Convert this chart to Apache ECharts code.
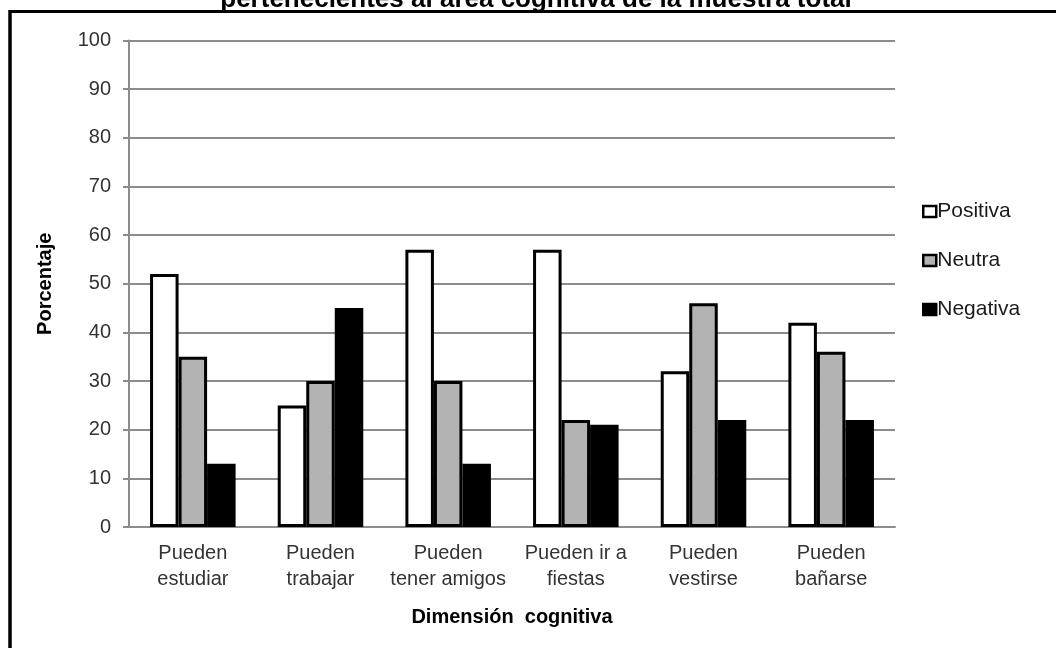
<!DOCTYPE html>
<html>
<head>
<meta charset="utf-8">
<script src="https://cdn.jsdelivr.net/npm/echarts@6/dist/echarts.min.js"></script>
<style>
html,body{margin:0;padding:0;background:#fff;}
#chart{width:1056px;height:648px;}
</style>
</head>
<body>
<div id="chart"></div>
<script>
const categories = ["Pueden\nestudiar", "Pueden\ntrabajar", "Pueden\ntener amigos", "Pueden ir a\nfiestas", "Pueden\nvestirse", "Pueden\nbañarse"];
const positiva = [52, 25, 57, 57, 32, 42];
const neutra = [35, 30, 30, 22, 46, 36];
const negativa = [13, 45, 13, 21, 22, 22];
const seriesNames = ["Positiva", "Neutra", "Negativa"];
const yTicks = { min: 0, max: 100, interval: 10 };
const titleText = "pertenecientes al área cognitiva de la muestra total";

const FONT = "'Liberation Sans', Arial, sans-serif";
const chart = echarts.init(document.getElementById('chart'), null, { renderer: 'canvas' });

function barSeries(name, data, color) {
  return {
    name: name,
    type: 'bar',
    data: data,
    barGap: '0%',
    barCategoryGap: '33%',
    itemStyle: { color: color, borderColor: '#000', borderWidth: 3 },
    emphasis: { disabled: true }
  };
}

chart.setOption({
  animation: false,
  backgroundColor: '#fff',
  grid: { left: 129, right: 161, top: 40.5, bottom: 121 },
  legend: {
    orient: 'vertical',
    left: 917,
    top: 196,
    itemGap: 28,
    itemWidth: 13,
    itemHeight: 11,
    icon: 'rect',
    textStyle: { fontFamily: FONT, fontSize: 21, color: '#1a1a1a', padding: [0, 0, 0, -4] },
    itemStyle: { borderColor: '#000', borderWidth: 2.5 },
    data: seriesNames
  },
  xAxis: {
    type: 'category',
    data: categories,
    name: 'Dimensión  cognitiva',
    nameLocation: 'middle',
    nameGap: 80,
    nameTextStyle: { fontFamily: FONT, fontSize: 20, fontWeight: 'bold', color: '#000' },
    axisLine: { show: true, lineStyle: { color: '#8c8c8c', width: 2 } },
    axisTick: { show: false },
    axisLabel: { fontFamily: FONT, fontSize: 20, color: '#333', lineHeight: 26, margin: 13, interval: 0 },
    splitLine: { show: false }
  },
  yAxis: {
    type: 'value',
    min: yTicks.min,
    max: yTicks.max,
    interval: yTicks.interval,
    name: 'Porcentaje',
    nameLocation: 'middle',
    nameGap: 74,
    nameRotate: 90,
    nameTextStyle: { fontFamily: FONT, fontSize: 20, fontWeight: 'bold', color: '#000' },
    axisLine: { show: true, lineStyle: { color: '#8c8c8c', width: 2 } },
    axisTick: { show: true, inside: false, length: 6, lineStyle: { color: '#8c8c8c', width: 2 } },
    axisLabel: { fontFamily: FONT, fontSize: 20, color: '#333', margin: 18 },
    splitLine: { show: true, lineStyle: { color: '#8c8c8c', width: 2 } }
  },
  graphic: [
    { type: 'line', shape: { x1: 10, y1: 11.5, x2: 1056, y2: 11.5 }, style: { stroke: '#000', lineWidth: 3 }, z: 100 },
    { type: 'line', shape: { x1: 10, y1: 10, x2: 10, y2: 648 }, style: { stroke: '#000', lineWidth: 3.5 }, z: 100 },
    { type: 'text', x: 536, y: 0, style: { text: titleText, font: "bold 26px 'Liberation Sans', Arial, sans-serif", fill: '#000', textAlign: 'center', textVerticalAlign: 'middle' }, z: 100 }
  ],
  series: [
    barSeries(seriesNames[0], positiva, '#ffffff'),
    barSeries(seriesNames[1], neutra, '#b3b3b3'),
    barSeries(seriesNames[2], negativa, '#000000')
  ]
});
</script>
</body>
</html>
